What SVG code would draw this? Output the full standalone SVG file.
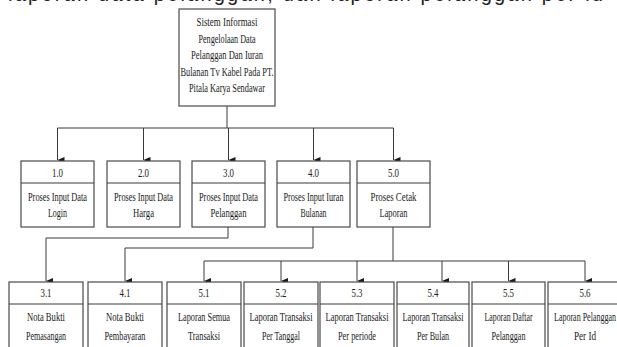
<svg xmlns="http://www.w3.org/2000/svg" width="617" height="347" viewBox="0 0 617 347">
<style>
.box{fill:#fff;stroke:#4a4a4a;stroke-width:1.2}
.t{font-family:"Liberation Serif","Times New Roman",serif;font-size:12.5px;fill:#1a1a1a;text-anchor:middle}
.ln{fill:none;stroke:#3a3a3a;stroke-width:1}
.hd{font-family:"Liberation Sans",Arial,sans-serif;font-size:20px;fill:#222}
</style>
<defs>
<marker id="ah" markerWidth="6" markerHeight="7" refX="3" refY="7" orient="auto-start-reverse" markerUnits="userSpaceOnUse" viewBox="0 0 6 7">
<path d="M0,0 L6,0 L3,7 Z" fill="#1a1a1a"/>
</marker>
</defs>
<rect width="617" height="347" fill="#fff"/>
<text class="hd" x="8" y="1" textLength="595" lengthAdjust="spacing">laporan data pelanggan, dan laporan pelanggan per id</text>

<g id="connectors">
<path class="ln" d="M227,106 V128"/>
<path class="ln" d="M57.5,128 H393.5"/>
<path class="ln" d="M57.5,128 V160" marker-end="url(#ah)"/>
<path class="ln" d="M143.5,128 V160" marker-end="url(#ah)"/>
<path class="ln" d="M228.5,128 V160" marker-end="url(#ah)"/>
<path class="ln" d="M313.5,128 V160" marker-end="url(#ah)"/>
<path class="ln" d="M393.5,128 V160" marker-end="url(#ah)"/>
<path class="ln" d="M228,227 V238 H46 V281" marker-end="url(#ah)"/>
<path class="ln" d="M313,227 V248 H125 V281" marker-end="url(#ah)"/>
<path class="ln" d="M393,227 V261"/>
<path class="ln" d="M204,261 H585"/>
<path class="ln" d="M204,261 V281" marker-end="url(#ah)"/>
<path class="ln" d="M281,261 V281" marker-end="url(#ah)"/>
<path class="ln" d="M357,261 V281" marker-end="url(#ah)"/>
<path class="ln" d="M442,261 V281" marker-end="url(#ah)"/>
<path class="ln" d="M508.5,261 V281" marker-end="url(#ah)"/>
<path class="ln" d="M585,261 V281" marker-end="url(#ah)"/>
</g>

<g id="n0">
<rect class="box" x="179" y="9" width="96" height="97"/>
<text class="t" x="227" y="26" textLength="61" lengthAdjust="spacingAndGlyphs">Sistem Informasi</text>
<text class="t" x="227" y="42.5" textLength="57" lengthAdjust="spacingAndGlyphs">Pengelolaan Data</text>
<text class="t" x="227" y="59" textLength="72" lengthAdjust="spacingAndGlyphs">Pelanggan Dan Iuran</text>
<text class="t" x="227" y="75.5" textLength="93" lengthAdjust="spacingAndGlyphs">Bulanan Tv Kabel Pada PT.</text>
<text class="t" x="227" y="92" textLength="76" lengthAdjust="spacingAndGlyphs">Pitala Karya Sendawar</text>
</g>

<g id="n1">
<rect class="box" x="21" y="161" width="73" height="66"/>
<line class="ln" x1="21" y1="183" x2="94" y2="183"/>
<text class="t" x="57.5" y="177" textLength="11" lengthAdjust="spacingAndGlyphs">1.0</text>
<text class="t" x="57.5" y="201" textLength="59" lengthAdjust="spacingAndGlyphs">Proses Input Data</text>
<text class="t" x="57.5" y="217" textLength="19" lengthAdjust="spacingAndGlyphs">Login</text>
</g>
<g id="n2">
<rect class="box" x="107" y="161" width="73" height="66"/>
<line class="ln" x1="107" y1="183" x2="180" y2="183"/>
<text class="t" x="143.5" y="177" textLength="11" lengthAdjust="spacingAndGlyphs">2.0</text>
<text class="t" x="143.5" y="201" textLength="59" lengthAdjust="spacingAndGlyphs">Proses Input Data</text>
<text class="t" x="143.5" y="217" textLength="21" lengthAdjust="spacingAndGlyphs">Harga</text>
</g>
<g id="n3">
<rect class="box" x="192" y="161" width="73" height="66"/>
<line class="ln" x1="192" y1="183" x2="265" y2="183"/>
<text class="t" x="228.5" y="177" textLength="11" lengthAdjust="spacingAndGlyphs">3.0</text>
<text class="t" x="228.5" y="201" textLength="59" lengthAdjust="spacingAndGlyphs">Proses Input Data</text>
<text class="t" x="228.5" y="217" textLength="36" lengthAdjust="spacingAndGlyphs">Pelanggan</text>
</g>
<g id="n4">
<rect class="box" x="277" y="161" width="73" height="66"/>
<line class="ln" x1="277" y1="183" x2="350" y2="183"/>
<text class="t" x="313.5" y="177" textLength="11" lengthAdjust="spacingAndGlyphs">4.0</text>
<text class="t" x="313.5" y="201" textLength="60" lengthAdjust="spacingAndGlyphs">Proses Input Iuran</text>
<text class="t" x="313.5" y="217" textLength="26" lengthAdjust="spacingAndGlyphs">Bulanan</text>
</g>
<g id="n5">
<rect class="box" x="357" y="161" width="73" height="66"/>
<line class="ln" x1="357" y1="183" x2="430" y2="183"/>
<text class="t" x="393.5" y="177" textLength="11" lengthAdjust="spacingAndGlyphs">5.0</text>
<text class="t" x="393.5" y="201" textLength="46" lengthAdjust="spacingAndGlyphs">Proses Cetak</text>
<text class="t" x="393.5" y="217" textLength="28" lengthAdjust="spacingAndGlyphs">Laporan</text>
</g>

<g id="n31">
<rect class="box" x="9" y="282" width="74" height="80"/>
<line class="ln" x1="9" y1="304" x2="83" y2="304"/>
<text class="t" x="46" y="297" textLength="11" lengthAdjust="spacingAndGlyphs">3.1</text>
<text class="t" x="46" y="321" textLength="38" lengthAdjust="spacingAndGlyphs">Nota Bukti</text>
<text class="t" x="46" y="340" textLength="40" lengthAdjust="spacingAndGlyphs">Pemasangan</text>
</g>
<g id="n41">
<rect class="box" x="88" y="282" width="74" height="80"/>
<line class="ln" x1="88" y1="304" x2="162" y2="304"/>
<text class="t" x="125" y="297" textLength="11" lengthAdjust="spacingAndGlyphs">4.1</text>
<text class="t" x="125" y="321" textLength="38" lengthAdjust="spacingAndGlyphs">Nota Bukti</text>
<text class="t" x="125" y="340" textLength="41" lengthAdjust="spacingAndGlyphs">Pembayaran</text>
</g>
<g id="n51">
<rect class="box" x="167" y="282" width="74" height="80"/>
<line class="ln" x1="167" y1="304" x2="241" y2="304"/>
<text class="t" x="204" y="297" textLength="11" lengthAdjust="spacingAndGlyphs">5.1</text>
<text class="t" x="204" y="321" textLength="52" lengthAdjust="spacingAndGlyphs">Laporan Semua</text>
<text class="t" x="204" y="340" textLength="32" lengthAdjust="spacingAndGlyphs">Transaksi</text>
</g>
<g id="n52">
<rect class="box" x="244" y="282" width="74" height="80"/>
<line class="ln" x1="244" y1="304" x2="318" y2="304"/>
<text class="t" x="281" y="297" textLength="11" lengthAdjust="spacingAndGlyphs">5.2</text>
<text class="t" x="281" y="321" textLength="63" lengthAdjust="spacingAndGlyphs">Laporan Transaksi</text>
<text class="t" x="281" y="340" textLength="38" lengthAdjust="spacingAndGlyphs">Per Tanggal</text>
</g>
<g id="n53">
<rect class="box" x="320" y="282" width="74" height="80"/>
<line class="ln" x1="320" y1="304" x2="394" y2="304"/>
<text class="t" x="357" y="297" textLength="11" lengthAdjust="spacingAndGlyphs">5.3</text>
<text class="t" x="357" y="321" textLength="63" lengthAdjust="spacingAndGlyphs">Laporan Transaksi</text>
<text class="t" x="357" y="340" textLength="38" lengthAdjust="spacingAndGlyphs">Per periode</text>
</g>
<g id="n54">
<rect class="box" x="397" y="282" width="72" height="80"/>
<line class="ln" x1="397" y1="304" x2="469" y2="304"/>
<text class="t" x="433" y="297" textLength="11" lengthAdjust="spacingAndGlyphs">5.4</text>
<text class="t" x="433" y="321" textLength="61" lengthAdjust="spacingAndGlyphs">Laporan Transaksi</text>
<text class="t" x="433" y="340" textLength="32" lengthAdjust="spacingAndGlyphs">Per Bulan</text>
</g>
<g id="n55">
<rect class="box" x="472" y="282" width="73" height="80"/>
<line class="ln" x1="472" y1="304" x2="545" y2="304"/>
<text class="t" x="508.5" y="297" textLength="11" lengthAdjust="spacingAndGlyphs">5.5</text>
<text class="t" x="508.5" y="321" textLength="48" lengthAdjust="spacingAndGlyphs">Laporan Daftar</text>
<text class="t" x="508.5" y="340" textLength="34" lengthAdjust="spacingAndGlyphs">Pelanggan</text>
</g>
<g id="n56">
<rect class="box" x="548" y="282" width="74" height="80"/>
<line class="ln" x1="548" y1="304" x2="622" y2="304"/>
<text class="t" x="585" y="297" textLength="11" lengthAdjust="spacingAndGlyphs">5.6</text>
<text class="t" x="585" y="321" textLength="62" lengthAdjust="spacingAndGlyphs">Laporan Pelanggan</text>
<text class="t" x="585" y="340" textLength="22" lengthAdjust="spacingAndGlyphs">Per Id</text>
</g>
</svg>
